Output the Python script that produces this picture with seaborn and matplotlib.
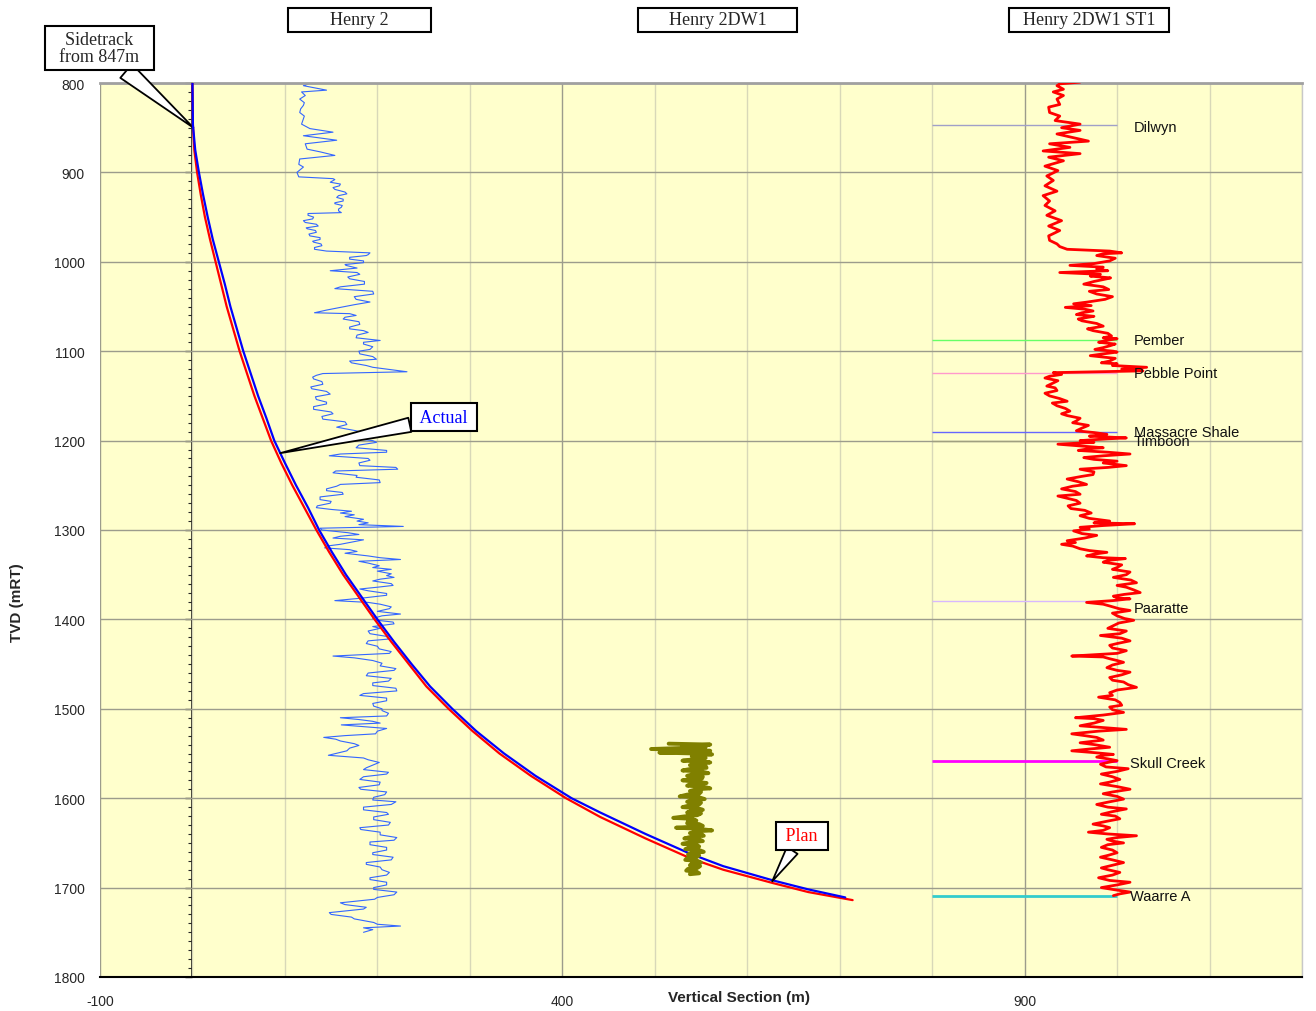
import matplotlib
matplotlib.use("Agg")
import matplotlib.pyplot as plt
from matplotlib.patches import Rectangle
from matplotlib.ticker import MultipleLocator
import seaborn as sns

# well trajectories: TVD (mRT) and vertical section (m)
plan_tvd = [800, 847, 875, 900, 925, 950, 975, 1000, 1025, 1050, 1075, 1100,
            1125, 1150, 1175, 1200, 1225, 1250, 1275, 1300, 1325, 1350, 1375,
            1400, 1425, 1450, 1475, 1500, 1525, 1550, 1575, 1600, 1621, 1645,
            1667, 1680, 1695, 1705, 1714]
plan_vs = [0, 0.5, 2, 5, 9, 13.5, 19, 25, 31, 37, 44, 51,
           59, 67, 76, 85, 96, 108, 121, 134, 148, 163, 180,
           197, 215, 234, 253, 277, 303, 332, 366, 404, 441, 490,
           538, 574, 628, 666, 714]
actual_tvd = [800, 847, 875, 900, 925, 950, 975, 1000, 1025, 1050, 1075, 1100,
              1125, 1150, 1175, 1200, 1225, 1250, 1275, 1300, 1325, 1350, 1375,
              1400, 1425, 1450, 1475, 1500, 1525, 1550, 1575, 1600, 1616, 1640,
              1662, 1676, 1692, 1702, 1711]
actual_vs = [0, 0.5, 3, 7, 11.5, 16.5, 22, 28.5, 35, 41, 48, 55,
             63, 71, 80, 88.5, 100, 112, 125, 137, 151, 166, 183,
             200, 218, 237, 257, 281, 307, 337, 371, 410, 441, 490,
             538, 574, 628, 666, 706]

# Henry 2 log trace (plotted in section units)
h2_tvd = [799, 803, 808, 810, 814, 818, 822, 825, 829, 833,
          837, 840, 846, 851, 855, 859, 864, 868, 874, 877,
          881, 885, 891, 894, 900, 905, 907, 908, 911, 913,
          915, 917, 919, 922, 924, 926, 928, 930, 932, 934,
          935, 937, 939, 941, 943, 945, 946, 948, 950, 952,
          954, 956, 958, 960, 962, 963, 965, 967, 969, 971,
          973, 975, 977, 978, 980, 982, 984, 986, 988, 990,
          992, 993, 995, 997, 999, 1001, 1003, 1004, 1007, 1010,
          1012, 1014, 1017, 1019, 1022, 1025, 1028, 1030, 1033, 1036,
          1039, 1042, 1045, 1048, 1051, 1054, 1057, 1058, 1060, 1062,
          1064, 1067, 1070, 1073, 1075, 1077, 1079, 1082, 1085, 1088,
          1090, 1092, 1095, 1098, 1100, 1103, 1106, 1109, 1111, 1113,
          1116, 1118, 1120, 1123, 1125, 1127, 1129, 1131, 1134, 1137,
          1140, 1142, 1145, 1148, 1151, 1154, 1157, 1159, 1162, 1165,
          1168, 1170, 1173, 1176, 1179, 1182, 1185, 1189, 1192, 1195,
          1197, 1200, 1202, 1205, 1208, 1211, 1213, 1215, 1217, 1220,
          1222, 1225, 1228, 1230, 1232, 1234, 1236, 1239, 1241, 1244,
          1247, 1249, 1251, 1254, 1256, 1258, 1260, 1263, 1266, 1268,
          1270, 1273, 1275, 1277, 1279, 1281, 1283, 1285, 1288, 1290,
          1292, 1294, 1296, 1298, 1300, 1303, 1305, 1307, 1309, 1311,
          1313, 1316, 1318, 1320, 1322, 1324, 1326, 1329, 1331, 1333,
          1335, 1337, 1340, 1342, 1344, 1346, 1349, 1351, 1353, 1355,
          1357, 1360, 1362, 1364, 1366, 1368, 1371, 1373, 1376, 1379,
          1381, 1383, 1386, 1388, 1391, 1394, 1396, 1399, 1401, 1403,
          1405, 1408, 1410, 1413, 1416, 1419, 1422, 1424, 1427, 1430,
          1433, 1436, 1438, 1441, 1443, 1446, 1449, 1452, 1455, 1457,
          1460, 1463, 1466, 1469, 1471, 1474, 1477, 1480, 1483, 1485,
          1488, 1491, 1494, 1497, 1500, 1502, 1505, 1508, 1510, 1512,
          1514, 1516, 1518, 1520, 1522, 1525, 1528, 1530, 1532, 1534,
          1536, 1539, 1541, 1544, 1547, 1550, 1552, 1555, 1557, 1560,
          1563, 1566, 1568, 1571, 1573, 1576, 1579, 1582, 1585, 1588,
          1590, 1593, 1596, 1599, 1602, 1604, 1607, 1610, 1613, 1616,
          1618, 1621, 1624, 1627, 1630, 1633, 1635, 1638, 1641, 1644,
          1647, 1649, 1652, 1655, 1658, 1661, 1663, 1666, 1669, 1672,
          1674, 1677, 1680, 1683, 1686, 1689, 1691, 1694, 1697, 1700,
          1702, 1705, 1708, 1711, 1713, 1717, 1719, 1722, 1724, 1728,
          1730, 1733, 1735, 1739, 1741, 1743, 1745, 1747, 1750]
h2_val = [131, 120, 145, 118, 122, 116, 121, 120, 117, 116,
          121, 120, 118, 127, 152, 120, 156, 122, 124, 138,
          154, 116, 115, 120, 113, 115, 152, 154, 149, 160,
          159, 152, 154, 165, 167, 158, 156, 163, 163, 154,
          154, 162, 161, 158, 158, 161, 125, 125, 131, 130,
          120, 122, 134, 136, 123, 124, 133, 134, 126, 127,
          138, 138, 130, 131, 139, 140, 132, 132, 145, 192,
          190, 188, 170, 170, 185, 185, 165, 166, 178, 149,
          178, 181, 168, 170, 186, 186, 160, 154, 195, 196,
          175, 177, 192, 175, 160, 145, 132, 170, 177, 165,
          163, 180, 181, 170, 170, 185, 190, 178, 177, 203,
          185, 185, 195, 192, 180, 181, 195, 199, 170, 172,
          188, 195, 210, 232, 141, 134, 130, 131, 140, 141,
          128, 129, 145, 149, 133, 134, 145, 145, 131, 131,
          150, 152, 140, 141, 165, 167, 156, 177, 188, 168,
          167, 195, 199, 180, 177, 210, 210, 160, 148, 190,
          192, 180, 181, 220, 222, 155, 152, 178, 177, 202,
          203, 160, 156, 145, 145, 162, 163, 138, 138, 150,
          149, 135, 134, 150, 172, 160, 175, 165, 185, 178,
          190, 180, 228, 138, 140, 168, 180, 160, 152, 185,
          175, 160, 145, 143, 170, 178, 165, 190, 203, 225,
          180, 190, 202, 195, 215, 200, 215, 210, 218, 203,
          195, 215, 217, 200, 181, 190, 210, 210, 185, 154,
          190, 203, 215, 213, 200, 225, 205, 195, 200, 217,
          218, 195, 203, 190, 192, 210, 212, 190, 188, 200,
          202, 215, 213, 152, 175, 195, 205, 203, 220, 218,
          190, 188, 215, 212, 195, 195, 220, 221, 185, 181,
          210, 210, 195, 196, 205, 205, 212, 210, 160, 180,
          195, 203, 161, 185, 210, 200, 198, 165, 142, 155,
          160, 175, 180, 170, 167, 155, 147, 185, 190, 202,
          195, 188, 185, 212, 210, 185, 181, 203, 202, 180,
          182, 210, 208, 196, 195, 220, 215, 185, 185, 210,
          212, 196, 196, 214, 212, 181, 182, 203, 203, 221,
          218, 192, 192, 210, 210, 195, 195, 217, 215, 188,
          188, 203, 205, 213, 210, 192, 192, 210, 210, 196,
          196, 221, 218, 200, 197, 160, 165, 188, 185, 148,
          150, 172, 175, 196, 200, 225, 185, 195, 185]

# Henry 2DW1 log trace as (TVD, value)
dw1_log = [
    (1539, 515), (1540, 560), (1541, 540), (1542, 530), (1543, 555), (1545, 496),
    (1546, 540), (1547, 560), (1548, 535), (1549, 505), (1550, 545), (1551, 562),
    (1552, 545), (1553, 540), (1555, 555), (1556, 550), (1557, 538), (1558, 530),
    (1559, 552), (1560, 560), (1562, 542), (1563, 538), (1564, 555), (1566, 556),
    (1567, 540), (1569, 530), (1570, 550), (1572, 558), (1573, 542), (1575, 535),
    (1576, 552), (1578, 551), (1579, 538), (1580, 530), (1582, 548), (1583, 556),
    (1584, 540), (1586, 535), (1587, 552), (1589, 560), (1590, 545), (1592, 538),
    (1593, 550), (1595, 548), (1596, 535), (1598, 527), (1599, 548), (1601, 554),
    (1602, 540), (1604, 535), (1605, 550), (1607, 548), (1608, 538), (1610, 530),
    (1611, 546), (1613, 552), (1614, 540), (1616, 535), (1617, 550), (1619, 546),
    (1620, 535), (1622, 520), (1623, 540), (1625, 545), (1626, 536), (1628, 535),
    (1629, 548), (1631, 552), (1632, 540), (1633, 523), (1634, 545), (1636, 562),
    (1637, 545), (1639, 538), (1640, 550), (1642, 553), (1643, 540), (1645, 532),
    (1646, 548), (1648, 552), (1649, 540), (1651, 530), (1652, 545), (1654, 548),
    (1655, 537), (1657, 533), (1658, 548), (1660, 553), (1661, 540), (1663, 536),
    (1664, 548), (1666, 545), (1667, 535), (1669, 533), (1670, 546), (1672, 550),
    (1673, 540), (1675, 538), (1676, 549), (1678, 546), (1679, 536), (1681, 534),
    (1682, 545), (1684, 548), (1685, 538)]

# Henry 2DW1 ST1 log trace as (TVD, value)
st1_log = [
    (797, 940), (799, 960), (801, 938), (803, 935), (807, 942), (810, 931),
    (814, 942), (818, 935), (824, 938), (827, 926), (833, 927), (837, 938),
    (842, 933), (846, 960), (850, 940), (853, 960), (857, 935), (865, 969),
    (868, 927), (872, 949), (876, 920), (879, 960), (883, 926), (887, 942),
    (893, 922), (898, 936), (904, 924), (909, 931), (915, 922), (921, 935),
    (926, 920), (932, 927), (937, 922), (943, 933), (948, 924), (954, 940),
    (960, 926), (965, 938), (971, 926), (976, 927), (980, 935), (983, 938),
    (986, 946), (988, 992), (990, 1005), (991, 985), (993, 978), (996, 998),
    (999, 992), (1002, 975), (1004, 949), (1006, 985), (1008, 978), (1010, 990),
    (1012, 938), (1014, 982), (1016, 971), (1018, 993), (1019, 989), (1022, 975),
    (1025, 964), (1028, 985), (1031, 991), (1033, 970), (1036, 978), (1039, 995),
    (1042, 987), (1045, 968), (1047, 953), (1049, 972), (1051, 944), (1053, 965),
    (1055, 974), (1057, 962), (1059, 956), (1061, 975), (1062, 969), (1064, 958),
    (1066, 962), (1069, 978), (1072, 985), (1075, 968), (1077, 974), (1080, 990),
    (1083, 994), (1085, 985), (1086, 1000), (1088, 988), (1090, 980), (1092, 998),
    (1094, 992), (1096, 985), (1098, 976), (1100, 996), (1101, 1000), (1103, 985),
    (1105, 971), (1108, 998), (1111, 992), (1113, 983), (1114, 1000), (1116, 995),
    (1118, 1032), (1120, 1005), (1122, 1028), (1124, 931), (1126, 940), (1128, 927),
    (1130, 922), (1133, 936), (1136, 930), (1139, 924), (1141, 933), (1144, 935),
    (1147, 922), (1150, 927), (1153, 938), (1156, 946), (1158, 930), (1161, 935),
    (1164, 944), (1167, 949), (1170, 940), (1172, 946), (1175, 960), (1178, 956),
    (1180, 952), (1183, 969), (1186, 962), (1189, 956), (1191, 975), (1193, 989),
    (1195, 970), (1197, 1010), (1198, 990), (1200, 960), (1202, 975), (1204, 936),
    (1206, 960), (1208, 985), (1209, 970), (1211, 958), (1213, 990), (1215, 1014),
    (1217, 985), (1219, 964), (1221, 975), (1223, 1000), (1225, 985), (1228, 1010),
    (1230, 990), (1232, 960), (1235, 975), (1238, 974), (1240, 962), (1243, 946),
    (1246, 958), (1249, 967), (1251, 952), (1254, 940), (1257, 955), (1260, 960),
    (1262, 936), (1265, 948), (1267, 956), (1270, 960), (1273, 947), (1276, 950),
    (1278, 965), (1281, 972), (1284, 960), (1287, 970), (1290, 992), (1292, 975),
    (1293, 1019), (1295, 985), (1297, 960), (1299, 970), (1301, 953), (1304, 962),
    (1306, 978), (1309, 965), (1312, 946), (1314, 955), (1316, 940), (1318, 952),
    (1321, 960), (1323, 970), (1325, 989), (1327, 975), (1329, 967), (1331, 985),
    (1332, 1009), (1334, 990), (1336, 985), (1339, 1005), (1342, 1000), (1344, 995),
    (1347, 1014), (1350, 1010), (1353, 996), (1356, 1015), (1359, 1021), (1362, 1000),
    (1364, 1010), (1367, 1018), (1370, 1025), (1372, 1008), (1374, 996), (1376, 1000),
    (1377, 1014), (1379, 995), (1381, 967), (1383, 985), (1385, 992), (1388, 1002),
    (1390, 1014), (1393, 995), (1396, 1000), (1399, 1008), (1401, 1018), (1404, 1002),
    (1407, 996), (1410, 990), (1413, 1010), (1416, 1003), (1418, 982), (1421, 1005),
    (1424, 1014), (1427, 1000), (1429, 992), (1432, 995), (1435, 1010), (1438, 1000),
    (1441, 951), (1442, 985), (1444, 992), (1446, 1000), (1448, 1007), (1451, 995),
    (1454, 989), (1457, 1000), (1459, 1014), (1462, 1005), (1465, 992), (1468, 995),
    (1470, 1007), (1473, 1012), (1476, 1021), (1479, 1000), (1482, 992), (1485, 995),
    (1487, 980), (1490, 998), (1493, 1003), (1496, 1005), (1498, 992), (1501, 995),
    (1504, 1007), (1507, 985), (1510, 955), (1511, 975), (1513, 985), (1516, 975),
    (1519, 960), (1521, 985), (1523, 1010), (1525, 980), (1528, 951), (1530, 965),
    (1532, 978), (1535, 985), (1538, 960), (1540, 975), (1543, 992), (1545, 970),
    (1547, 951), (1549, 975), (1551, 996), (1552, 985), (1554, 978), (1556, 990),
    (1558, 1000), (1560, 990), (1562, 982), (1565, 988), (1567, 1012), (1570, 1000),
    (1573, 983), (1576, 995), (1579, 1003), (1582, 992), (1584, 982), (1587, 1000),
    (1590, 1014), (1593, 995), (1595, 985), (1598, 1000), (1601, 1007), (1604, 992),
    (1607, 978), (1610, 990), (1612, 1010), (1615, 995), (1618, 983), (1620, 998),
    (1623, 1003), (1626, 988), (1629, 974), (1631, 985), (1633, 992), (1636, 985),
    (1638, 969), (1640, 990), (1642, 1021), (1644, 1000), (1646, 989), (1648, 995),
    (1650, 1007), (1652, 990), (1655, 983), (1658, 995), (1661, 1000), (1664, 990),
    (1666, 982), (1669, 995), (1672, 1007), (1675, 995), (1678, 983), (1680, 990),
    (1683, 1003), (1686, 995), (1689, 980), (1692, 992), (1694, 1014), (1697, 1000),
    (1700, 983), (1702, 995), (1705, 1014), (1707, 1003), (1709, 996)]

# formation tops
tops_names = ["Dilwyn", "Pember", "Pebble Point", "Massacre Shale",
              "Timboon", "Paaratte", "Skull Creek", "Waarre A"]
tops_tvd = [847, 1087, 1124, 1190, 1201, 1379, 1558, 1709]
tops_colors = ["#A0A0C8", "#66FF66", "#FF99CC", "#6666FF",
               "#A0A080", "#D8B8FF", "#FF00FF", "#33CCCC"]
tops_lw = [1, 1, 1, 1, 1, 1, 2, 2]
label_dx = [18, 18, 18, 18, 18, 18, 14, 14]
label_dy = [2, 0, 0, 0, 0, 8, 3, 0]

dw1_tvd, dw1_val = zip(*dw1_log)
st1_tvd, st1_val = zip(*st1_log)

sns.set_style("white")
plt.rcParams['font.family'] = ['Liberation Sans', 'DejaVu Sans']
plt.rcParams['axes.unicode_minus'] = False
serif = ['Liberation Serif', 'DejaVu Serif']

fig = plt.figure(figsize=(13.16, 10.12), dpi=100)
ax = fig.add_axes([100 / 1316, 34 / 1012, 1202 / 1316, 894 / 1012])
ax.set_facecolor('#FFFFCC')

# formation top markers
ax.hlines(tops_tvd, 800, 1000, colors=tops_colors, linewidths=tops_lw, zorder=2)
for name, d, dx, dy in zip(tops_names, tops_tvd, label_dx, label_dy):
    ax.text(1000 + dx, d + dy, name, ha='left', va='center', fontsize=10.5,
            color='#111111', zorder=6)

sns.lineplot(x=h2_val, y=h2_tvd, orient='y', sort=False, estimator=None,
             color='#3366FF', linewidth=0.8, ax=ax, zorder=2)
sns.lineplot(x=list(st1_val), y=list(st1_tvd), orient='y', sort=False,
             estimator=None, color='#FF0000', linewidth=2.0, ax=ax, zorder=3)
sns.lineplot(x=plan_vs, y=plan_tvd, orient='y', sort=False, estimator=None,
             color='#FF0000', linewidth=1.6, ax=ax, zorder=4)
sns.lineplot(x=actual_vs, y=actual_tvd, orient='y', sort=False, estimator=None,
             color='#0000FF', linewidth=1.6, ax=ax, zorder=4)
sns.lineplot(x=list(dw1_val), y=list(dw1_tvd), orient='y', sort=False,
             estimator=None, color='#808000', linewidth=2.8, ax=ax, zorder=5)

ax.set_xlim(-100, 1200)
ax.set_ylim(1800, 800)
ax.set_xticks([-100, 400, 900])
ax.xaxis.set_minor_locator(MultipleLocator(100))
ax.set_yticks(range(800, 1801, 100))
ax.grid(True, which='major', color='#9c9c8c', linewidth=1)
ax.grid(True, which='minor', axis='x', color='#d8d8b8', linewidth=1)
ax.set_axisbelow(True)

ax.tick_params(axis='x', which='major', length=5, width=1, color='black',
               pad=7, labelsize=10)
ax.tick_params(axis='x', which='minor', length=0)
ax.tick_params(axis='y', which='both', length=0, pad=11, labelsize=10)

ax.spines['left'].set_visible(False)
ax.spines['bottom'].set_color('black')
ax.spines['bottom'].set_linewidth(1.5)
ax.spines['top'].set_color('#a0a0a0')
ax.spines['top'].set_linewidth(2)
ax.spines['right'].set_color('#c8c8c8')
ax.spines['right'].set_linewidth(1)

# value axis drawn at zero section
sec = ax.secondary_yaxis(100 / 1300)
sec.set_yticks(range(800, 1801, 100))
sec.yaxis.set_minor_locator(MultipleLocator(10))
sec.tick_params(which='major', length=5, width=1, labelleft=False)
sec.tick_params(which='minor', length=3, width=0.8, labelleft=False)
sec.spines['left'].set_linewidth(1.2)
sec.spines['left'].set_color('black')

ax.set_xlabel("Vertical Section (m)", fontsize=11, fontweight='bold', va='center')
ax.xaxis.set_label_coords(0.532, -0.0224)
ax.set_ylabel("TVD (mRT)", fontsize=11, fontweight='bold', va='center')
ax.yaxis.set_label_coords(-0.069, 0.42)

# log titles
titles = [("Henry 2", 0.1564, 0.1190), ("Henry 2DW1", 0.4476, 0.1323),
          ("Henry 2DW1 ST1", 0.7562, 0.1331)]
for txt, x0, w in titles:
    ax.add_patch(Rectangle((x0, 1.0570), w, 0.0272, transform=ax.transAxes,
                           facecolor='white', edgecolor='black', lw=1.5,
                           clip_on=False, zorder=10))
    ax.text(x0 + w / 2, 1.0706, txt, transform=ax.transAxes, ha='center',
            va='center', fontsize=13, family=serif, zorder=11)

# callouts
box = dict(boxstyle='square,pad=0.3', fc='white', ec='black', lw=1.5)
ax.annotate("  Sidetrack  \n  from 847m  ", xy=(1, 850), xytext=(-101, 761),
            ha='center', va='center', fontsize=13, family=serif,
            linespacing=0.95, bbox=box, annotation_clip=False,
            arrowprops=dict(arrowstyle='wedge,tail_width=1.0', fc='white',
                            ec='black', lw=1.3, shrinkA=0, shrinkB=0))
ax.annotate(" Actual ", xy=(95, 1214), xytext=(272, 1174),
            ha='center', va='center', fontsize=13, family=serif, color='blue',
            bbox=box, zorder=8,
            arrowprops=dict(arrowstyle='wedge,tail_width=0.8', fc='white',
                            ec='black', lw=1.3, shrinkA=0, shrinkB=0))
ax.annotate(" Plan ", xy=(627, 1693), xytext=(659, 1642),
            ha='center', va='center', fontsize=13, family=serif, color='red',
            bbox=box, zorder=8,
            arrowprops=dict(arrowstyle='wedge,tail_width=0.7', fc='white',
                            ec='black', lw=1.3, shrinkA=0, shrinkB=0))

fig.savefig("out.png", dpi=100, facecolor='white')
